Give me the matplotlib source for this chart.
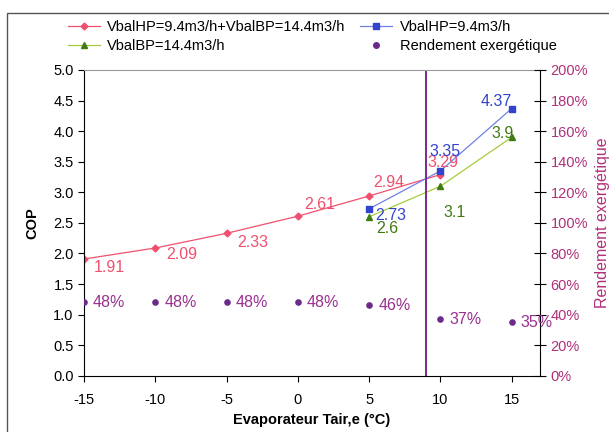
import matplotlib
matplotlib.use('Agg')
import matplotlib.pyplot as plt
from matplotlib.patches import Rectangle

x_all = [-15, -10, -5, 0, 5, 10]
cop_all = [1.91, 2.09, 2.33, 2.61, 2.94, 3.29]
x_hp = [5, 10, 15]
cop_hp = [2.73, 3.35, 4.37]
x_bp = [5, 10, 15]
cop_bp = [2.6, 3.1, 3.9]
x_ex = [-15, -10, -5, 0, 5, 10, 15]
exergy = [48, 48, 48, 48, 46, 37, 35]
x_limit = 9

red = '#f0506e'
blue = '#3344cc'
green_m = '#3f7a12'
green_l = '#a6cc3a'
purple = '#6a2a8a'
mag = '#b0307a'

plt.rcParams['font.family'] = 'Liberation Sans'
plt.rcParams['axes.unicode_minus'] = False
fig = plt.figure(figsize=(6.09, 4.32), dpi=100)
ax = fig.add_axes([0.138, 0.13, 0.749, 0.708])

l1, = ax.plot(x_all, cop_all, color=red, lw=0.9, marker='D', ms=3.5,
              label='VbalHP=9.4m3/h+VbalBP=14.4m3/h')
l2, = ax.plot(x_hp, cop_hp, color='#7080e0', lw=0.9, marker='s', ms=4,
              mfc=blue, mec=blue, label='VbalHP=9.4m3/h')
l3, = ax.plot(x_bp, cop_bp, color=green_l, lw=0.9, marker='^', ms=4.5,
              mfc=green_m, mec=green_m, label='VbalBP=14.4m3/h')
l4, = ax.plot([], [], ls='none', marker='o', ms=4, color=purple, label='Rendement exergétique')
ax.axvline(x_limit, color='#7a2a8a', lw=1.4)

fs = 11.5
# offsets in pixels (left edge of text, vertical center)
offs_all = [(10, -8), (11, -7), (11, -9), (6, 12), (4, 13), (-13, 12)]
for xv, yv, (dx, dy) in zip(x_all, cop_all, offs_all):
    ax.annotate(f'{yv:g}', (xv, yv), xytext=(dx, dy), textcoords='offset pixels',
                color=red, fontsize=fs, va='center')
offs_hp = [(6, -7), (-11, 19), (-31, 7)]
for xv, yv, (dx, dy) in zip(x_hp, cop_hp, offs_hp):
    ax.annotate(f'{yv:g}', (xv, yv), xytext=(dx, dy), textcoords='offset pixels',
                color=blue, fontsize=fs, va='center')
offs_bp = [(7, -12), (3, -26), (-20, 4)]
for xv, yv, (dx, dy) in zip(x_bp, cop_bp, offs_bp):
    ax.annotate(f'{yv:g}', (xv, yv), xytext=(dx, dy), textcoords='offset pixels',
                color=green_m, fontsize=fs, va='center')

ax.set_xlim(-15, 17)
ax.set_ylim(0, 5)
ax.set_xticks([-15, -10, -5, 0, 5, 10, 15])
ax.set_yticks([0, 0.5, 1, 1.5, 2, 2.5, 3, 3.5, 4, 4.5, 5])
ax.set_yticklabels([f'{v:.1f}' for v in ax.get_yticks()])
ax.tick_params(labelsize=10.5, direction='out', length=4)
ax.tick_params(axis='x', pad=8)
ax.set_xlabel('Evaporateur Tair,e (°C)', fontsize=10.5, fontweight='bold', labelpad=5)
ax.set_ylabel('COP', fontsize=10.5, fontweight='bold', labelpad=10)
ax.spines['top'].set_color('#999999')
ax.spines['right'].set_visible(False)

ax2 = ax.twinx()
ax2.scatter(x_ex, exergy, s=14, color=purple, zorder=3)
for xv, yv in zip(x_ex, exergy):
    ax2.annotate(f'{yv}%', (xv, yv), xytext=(9, 0), textcoords='offset pixels',
                 color='#9a3090', fontsize=fs, va='center')
ax2.set_ylim(0, 200)
ax2.set_yticks(range(0, 201, 20))
ax2.set_yticklabels([f'{v}%' for v in range(0, 201, 20)])
ax2.tick_params(axis='y', direction='inout', length=8, labelsize=10.5, labelcolor=mag)
ax2.spines['right'].set_color('black')
ax2.spines['top'].set_visible(False)
ax2.spines['left'].set_visible(False)
ax2.spines['bottom'].set_visible(False)
ax2.set_ylabel('Rendement exergétique', color=mag, fontsize=11.5, labelpad=5)

fig.legend([l1, l3, l2, l4], [l1.get_label(), l3.get_label(), l2.get_label(), l4.get_label()],
           loc='upper left', bbox_to_anchor=(0.09, 0.985), ncol=2, frameon=False,
           fontsize=10.5, handlelength=2.2, columnspacing=1.0, handletextpad=0.5,
           labelspacing=0.35)

fig.patches.append(Rectangle((0.012, -0.01), 1.1, 0.98, transform=fig.transFigure,
                             fill=False, edgecolor='#555555', lw=1))

fig.savefig('out.png', dpi=100)
